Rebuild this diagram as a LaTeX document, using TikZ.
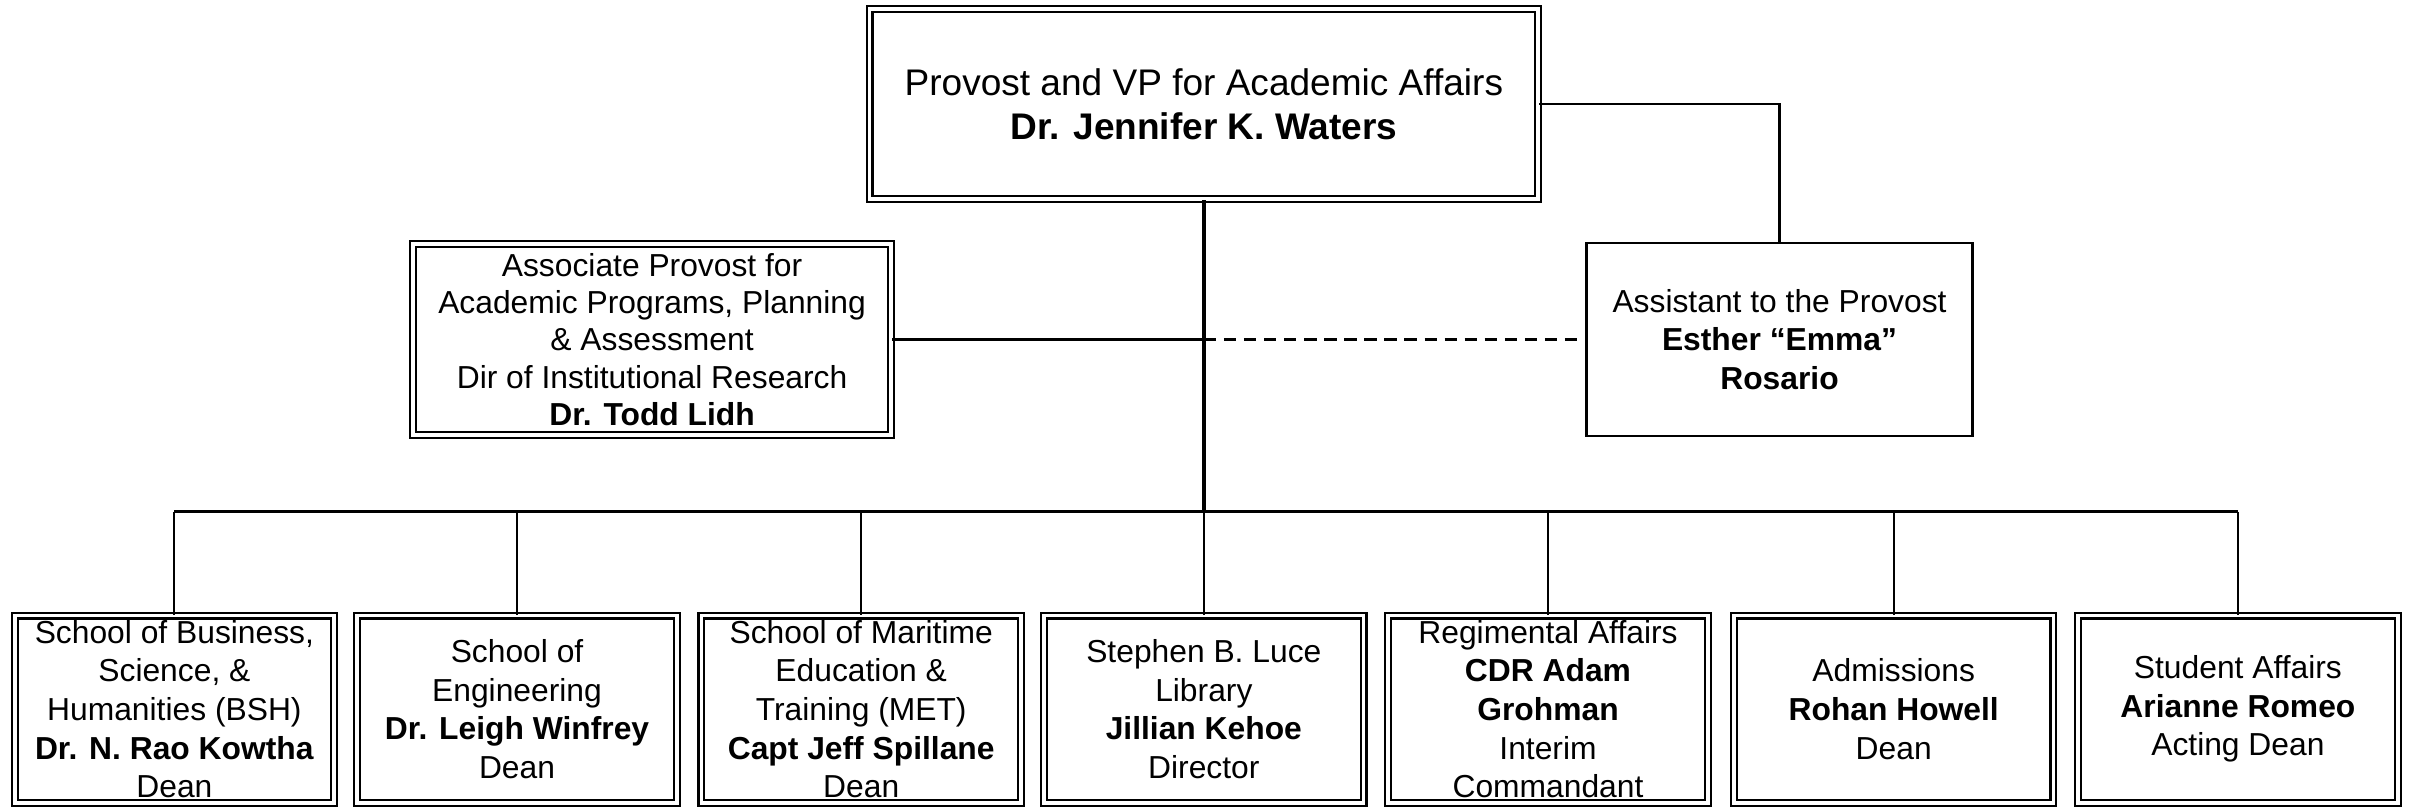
\documentclass[tikz,border=0pt]{standalone}
\usepackage{fontspec}
\setmainfont{Liberation Sans}
\usepackage{tikz}
\usetikzlibrary{positioning}
\usepackage{xcolor}

\tikzset{
	unitbox/.style={draw, double, double distance=1.2pt, line width=0.7pt, align=center, inner sep=1pt, minimum width=103.5pt, minimum height=60.6pt, font=\fontsize{10.3}{12.5}\selectfont},
	headbox/.style={unitbox, minimum width=216.6pt, minimum height=61.6pt, font=\fontsize{12}{14.5}\selectfont},
	staffbox/.style={unitbox, minimum width=155pt, minimum height=62pt, font=\fontsize{10.3}{12.1}\selectfont},
	plainbox/.style={draw, line width=0.8pt, align=center, inner sep=1pt, minimum width=125pt, minimum height=62.5pt, font=\fontsize{10.3}{12.5}\selectfont},
	link/.style={black, line width=0.7pt},
	trunk/.style={black, line width=1.1pt}
}

\begin{document}
\begin{tikzpicture}[x=0.5pt, y=0.5pt]
		\useasboundingbox (0, 0) rectangle (1568, 523.5);
		\node[headbox] (provost) at (780, 456) {Provost and VP for Academic Affairs\\\textbf{Dr. Jennifer K. Waters}};
		\node[staffbox] (assocprov) at (422.5, 303.5) {Associate Provost for\\Academic Programs, Planning\\\& Assessment\\Dir of Institutional Research\\\textbf{Dr. Todd Lidh}};
		\node[plainbox] (assistant) at (1153, 303.5) {Assistant to the Provost\\\textbf{Esther “Emma”}\\\textbf{Rosario}};
		\node[unitbox] (bsh) at (113, 64) {School of Business,\\Science, \&\\Humanities (BSH)\\\textbf{Dr. N. Rao Kowtha}\\Dean};
		\node[unitbox] (eng) at (335, 64) {School of\\Engineering\\\textbf{Dr. Leigh Winfrey}\\Dean};
		\node[unitbox] (met) at (558, 64) {School of Maritime\\Education \&\\Training (MET)\\\textbf{Capt Jeff Spillane}\\Dean};
		\node[unitbox] (library) at (780, 64) {Stephen B. Luce\\Library\\\textbf{Jillian Kehoe}\\Director};
		\node[unitbox] (regiment) at (1003, 64) {Regimental Affairs\\\textbf{CDR Adam}\\\textbf{Grohman}\\Interim\\Commandant};
		\node[unitbox] (admissions) at (1227, 64) {Admissions\\\textbf{Rohan Howell}\\Dean};
		\node[unitbox] (studaff) at (1450, 64) {Student Affairs\\\textbf{Arianne Romeo}\\Acting Dean};
		\coordinate (bus) at (780, 192);
		\draw[trunk] (provost.south) -- (bus);
		\draw[link] (provost.east) -| (assistant.north);
		\draw[link] (assocprov.east) -- (assocprov.east -| bus);
		\draw[link, dash pattern=on 4pt off 2.5pt] (assistant.west -| bus) -- (assistant.west);
		\draw[trunk] (bsh.north |- bus) -- (studaff.north |- bus);
		\draw[link] (bsh.north) -- (bsh.north |- bus);
		\draw[link] (eng.north) -- (eng.north |- bus);
		\draw[link] (met.north) -- (met.north |- bus);
		\draw[link] (library.north) -- (library.north |- bus);
		\draw[link] (regiment.north) -- (regiment.north |- bus);
		\draw[link] (admissions.north) -- (admissions.north |- bus);
		\draw[link] (studaff.north) -- (studaff.north |- bus);
\end{tikzpicture}
\end{document}
